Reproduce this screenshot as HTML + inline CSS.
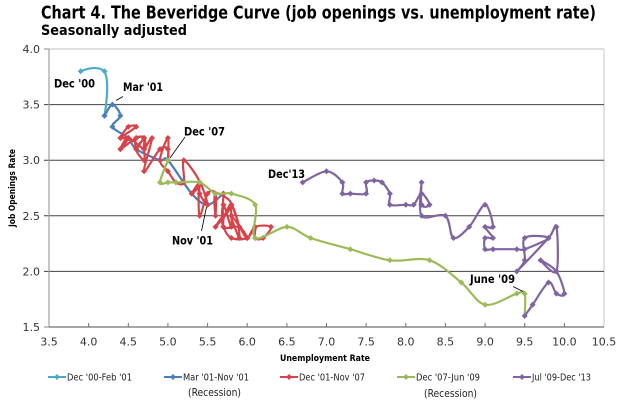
<!DOCTYPE html>
<html>
<head>
<meta charset="utf-8">
<style>
html,body{margin:0;padding:0;background:#fff;}
svg{display:block;}
text{font-family:"DejaVu Sans","Liberation Sans",sans-serif;}
</style>
</head>
<body>
<svg id="chart" width="625" height="404" viewBox="0 0 625 404" xmlns="http://www.w3.org/2000/svg">
<defs>
<marker id="mC" markerWidth="8" markerHeight="8" refX="4" refY="4" markerUnits="userSpaceOnUse"><path d="M4,1 L7,4 L4,7 L1,4Z" fill="#4BACC6"/></marker>
<marker id="mB" markerWidth="8" markerHeight="8" refX="4" refY="4" markerUnits="userSpaceOnUse"><path d="M4,1 L7,4 L4,7 L1,4Z" fill="#4A7EBB"/></marker>
<marker id="mR" markerWidth="8" markerHeight="8" refX="4" refY="4" markerUnits="userSpaceOnUse"><path d="M4,1 L7,4 L4,7 L1,4Z" fill="#D8434A"/></marker>
<marker id="mG" markerWidth="8" markerHeight="8" refX="4" refY="4" markerUnits="userSpaceOnUse"><path d="M4,1 L7,4 L4,7 L1,4Z" fill="#9BBB59"/></marker>
<marker id="mP" markerWidth="8" markerHeight="8" refX="4" refY="4" markerUnits="userSpaceOnUse"><path d="M4,1 L7,4 L4,7 L1,4Z" fill="#8064A2"/></marker>
</defs>

<!-- Title -->
<text x="41" y="18.5" font-size="17.5" font-weight="bold" fill="#000" textLength="555" lengthAdjust="spacingAndGlyphs">Chart 4. The Beveridge Curve (job openings vs. unemployment rate)</text>
<text x="41" y="35" font-size="14" font-weight="bold" fill="#000" textLength="146" lengthAdjust="spacingAndGlyphs">Seasonally adjusted</text>

<!-- Plot frame -->
<line x1="49" y1="49" x2="604" y2="49" stroke="#bfbfbf" stroke-width="1"/>
<line x1="604" y1="49" x2="604" y2="327" stroke="#d9d9d9" stroke-width="1.5"/>
<g stroke="#404040" stroke-width="1">
<line x1="44" y1="104.6" x2="604" y2="104.6"/>
<line x1="44" y1="160.2" x2="604" y2="160.2"/>
<line x1="44" y1="215.8" x2="604" y2="215.8"/>
<line x1="44" y1="271.4" x2="604" y2="271.4"/>
</g>
<line x1="44" y1="49" x2="49" y2="49" stroke="#888" stroke-width="1"/>
<line x1="44" y1="327" x2="49" y2="327" stroke="#888" stroke-width="1"/>
<line x1="49" y1="49" x2="49" y2="327" stroke="#a0a0a0" stroke-width="1.2"/>
<line x1="49" y1="327" x2="604" y2="327" stroke="#707070" stroke-width="1.2"/>
<g stroke="#707070" stroke-width="1">
<line x1="88.6" y1="323" x2="88.6" y2="327"/>
<line x1="128.3" y1="323" x2="128.3" y2="327"/>
<line x1="167.9" y1="323" x2="167.9" y2="327"/>
<line x1="207.6" y1="323" x2="207.6" y2="327"/>
<line x1="247.2" y1="323" x2="247.2" y2="327"/>
<line x1="286.9" y1="323" x2="286.9" y2="327"/>
<line x1="326.5" y1="323" x2="326.5" y2="327"/>
<line x1="366.1" y1="323" x2="366.1" y2="327"/>
<line x1="405.8" y1="323" x2="405.8" y2="327"/>
<line x1="445.4" y1="323" x2="445.4" y2="327"/>
<line x1="485.1" y1="323" x2="485.1" y2="327"/>
<line x1="524.7" y1="323" x2="524.7" y2="327"/>
<line x1="564.4" y1="323" x2="564.4" y2="327"/>
</g>

<g font-size="11" fill="#333" text-anchor="end">
<text x="40" y="53">4.0</text>
<text x="40" y="108.6">3.5</text>
<text x="40" y="164.2">3.0</text>
<text x="40" y="219.8">2.5</text>
<text x="40" y="275.4">2.0</text>
<text x="40" y="331">1.5</text>
</g>
<g font-size="11" fill="#333" text-anchor="middle">
<text x="49" y="345.5">3.5</text>
<text x="88.6" y="345.5">4.0</text>
<text x="128.3" y="345.5">4.5</text>
<text x="167.9" y="345.5">5.0</text>
<text x="207.6" y="345.5">5.5</text>
<text x="247.2" y="345.5">6.0</text>
<text x="286.9" y="345.5">6.5</text>
<text x="326.5" y="345.5">7.0</text>
<text x="366.1" y="345.5">7.5</text>
<text x="405.8" y="345.5">8.0</text>
<text x="445.4" y="345.5">8.5</text>
<text x="485.1" y="345.5">9.0</text>
<text x="524.7" y="345.5">9.5</text>
<text x="564.4" y="345.5">10.0</text>
<text x="604" y="345.5">10.5</text>
</g>

<text x="325" y="361" font-size="9" font-weight="bold" fill="#000" text-anchor="middle" textLength="90" lengthAdjust="spacingAndGlyphs">Unemployment  Rate</text>
<text transform="translate(15,188) rotate(-90)" font-size="8.5" font-weight="bold" fill="#000" text-anchor="middle" textLength="78" lengthAdjust="spacingAndGlyphs">Job Openings  Rate</text>

<path d="M80.7,71.2 C88,68.5 97,65.5 104.5,71.2 C109,80 107,100 104.5,115.7" fill="none" stroke="#4BACC6" stroke-width="2.2" stroke-linejoin="round" marker-start="url(#mC)" marker-mid="url(#mC)" marker-end="url(#mC)"/>

<polyline class="sm" points="104.5,115.7 112.4,104.6 120.4,115.7 112.4,126.8 128.3,138.0 136.2,149.1 160.0,160.2 167.9,160.2 191.7,193.6 207.6,204.7 223.4,193.6" fill="none" stroke="#4A7EBB" stroke-width="2.2" stroke-linejoin="round" marker-start="url(#mB)" marker-mid="url(#mB)" marker-end="url(#mB)"/>

<polyline class="sm" points="223.4,193.6 223.4,215.8 231.4,204.7 239.3,226.9 231.4,204.7 231.4,226.9 223.4,204.7 223.4,226.9 239.3,226.9 247.2,238.0 231.4,215.8 239.3,238.0 239.3,226.9 247.2,238.0 255.1,226.9 271.0,226.9 263.1,238.0 255.1,238.0 255.1,226.9 247.2,238.0 231.4,238.0 223.4,226.9 223.4,215.8 215.5,226.9 231.4,204.7 215.5,193.6 215.5,215.8 215.5,193.6 207.6,193.6 199.6,215.8 199.6,182.4 207.6,204.7 199.6,193.6 199.6,182.4 191.7,193.6 199.6,182.4 183.8,160.2 183.8,182.4 175.9,182.4 167.9,171.3 160.0,160.2 167.9,138.0 167.9,160.2 167.9,149.1 160.0,149.1 144.1,171.3 152.1,138.0 144.1,149.1 144.1,138.0 136.2,149.1 136.2,138.0 144.1,138.0 144.1,149.1 128.3,138.0 120.4,149.1 128.3,138.0 120.4,138.0 136.2,126.8 128.3,126.8 120.4,138.0 128.3,138.0 120.4,149.1 136.2,138.0 144.1,138.0 136.2,149.1 144.1,160.2 144.1,149.1" fill="none" stroke="#D8434A" stroke-width="2.2" stroke-linejoin="round" marker-start="url(#mR)" marker-mid="url(#mR)" marker-end="url(#mR)"/>

<polyline class="sm" points="167.9,160.2 160.0,182.4 167.9,182.4 175.9,182.4 199.6,182.4 215.5,193.6 231.4,193.6 255.1,204.7 255.1,238.0 286.9,226.9 310.6,238.0 350.3,249.2 389.9,260.3 429.6,260.3 461.3,282.5 485.1,304.8 516.8,293.6 524.7,293.6 524.7,315.9" fill="none" stroke="#9BBB59" stroke-width="2.2" stroke-linejoin="round" marker-start="url(#mG)" marker-mid="url(#mG)" marker-end="url(#mG)"/>

<polyline class="sm" points="524.7,315.9 532.6,304.8 548.5,282.5 556.4,293.6 564.4,293.6 556.4,271.4 540.6,260.3 556.4,271.4 556.4,226.9 548.5,238.0 516.8,271.4 524.7,260.3 524.7,238.0 548.5,238.0 524.7,249.2 516.8,249.2 493.0,249.2 485.1,249.2 485.1,238.0 493.0,238.0 485.1,226.9 493.0,226.9 485.1,204.7 469.2,226.9 453.4,238.0 445.4,215.8 421.6,215.8 421.6,182.4 421.6,204.7 429.6,204.7 421.6,193.6 413.7,204.7 405.8,204.7 389.9,204.7 389.9,193.6 382.0,182.4 374.1,180.5 366.1,182.4 366.1,193.6 350.3,193.6 342.4,193.6 342.4,182.4 326.5,171.3 302.7,182.4" fill="none" stroke="#8064A2" stroke-width="2.2" stroke-linejoin="round" marker-start="url(#mP)" marker-mid="url(#mP)" marker-end="url(#mP)"/>

<g font-size="11.5" font-weight="bold" fill="#000">
<text x="54" y="87.5" textLength="41" lengthAdjust="spacingAndGlyphs">Dec '00</text>
<text x="123" y="91" textLength="40" lengthAdjust="spacingAndGlyphs">Mar '01</text>
<text x="184" y="135.5" textLength="41" lengthAdjust="spacingAndGlyphs">Dec '07</text>
<text x="172" y="244.5" textLength="41" lengthAdjust="spacingAndGlyphs">Nov '01</text>
<text x="268" y="178" textLength="37" lengthAdjust="spacingAndGlyphs">Dec'13</text>
<text x="470" y="283" textLength="45" lengthAdjust="spacingAndGlyphs">June '09</text>
</g>
<g stroke="#000" stroke-width="0.8">
<line x1="116" y1="100.5" x2="123" y2="96.5"/>
<line x1="170" y1="158" x2="185" y2="137"/>
<line x1="201.5" y1="231" x2="206.5" y2="207"/>
<line x1="513" y1="286.5" x2="523" y2="291.5"/>
</g>

<g stroke-width="2">
<line x1="48" y1="377" x2="66" y2="377" stroke="#4BACC6"/>
<line x1="164" y1="377" x2="182" y2="377" stroke="#4A7EBB"/>
<line x1="280" y1="377" x2="298" y2="377" stroke="#D8434A"/>
<line x1="397" y1="377" x2="415" y2="377" stroke="#9BBB59"/>
<line x1="513" y1="377" x2="531" y2="377" stroke="#8064A2"/>
</g>
<path d="M57,374 L60,377 L57,380 L54,377Z" fill="#4BACC6"/>
<path d="M173,374 L176,377 L173,380 L170,377Z" fill="#4A7EBB"/>
<path d="M289,374 L292,377 L289,380 L286,377Z" fill="#D8434A"/>
<path d="M406,374 L409,377 L406,380 L403,377Z" fill="#9BBB59"/>
<path d="M522,374 L525,377 L522,380 L519,377Z" fill="#8064A2"/>
<g font-size="9.5" fill="#222">
<text x="67" y="380.5" textLength="65" lengthAdjust="spacingAndGlyphs">Dec '00-Feb '01</text>
<text x="183" y="380.5" textLength="66" lengthAdjust="spacingAndGlyphs">Mar '01-Nov '01</text>
<text x="299" y="380.5" textLength="66" lengthAdjust="spacingAndGlyphs">Dec '01-Nov '07</text>
<text x="416" y="380.5" textLength="64" lengthAdjust="spacingAndGlyphs">Dec '07-Jun '09</text>
<text x="532" y="380.5" textLength="59" lengthAdjust="spacingAndGlyphs">Jul '09-Dec '13</text>
</g>
<g font-size="10.5" fill="#222">
<text x="188" y="396" textLength="53" lengthAdjust="spacingAndGlyphs">(Recession)</text>
<text x="424" y="397" textLength="53" lengthAdjust="spacingAndGlyphs">(Recession)</text>
</g>
</svg>
<script>
(function(){
  try{
    var ns="http://www.w3.org/2000/svg";
    var pls=document.querySelectorAll("polyline.sm");
    for(var k=0;k<pls.length;k++){
      var pl=pls[k];
      var raw=pl.getAttribute("points").trim().split(/\s+/);
      var p=[];
      for(var i=0;i<raw.length;i++){var a=raw[i].split(",");p.push([parseFloat(a[0]),parseFloat(a[1])]);}
      var d="M"+p[0][0]+","+p[0][1];
      for(var i=0;i<p.length-1;i++){
        var p0=p[i>0?i-1:i],p1=p[i],p2=p[i+1],p3=p[i+2<p.length?i+2:i+1];
        var t=0.16;
        var c1x=p1[0]+(p2[0]-p0[0])*t,c1y=p1[1]+(p2[1]-p0[1])*t;
        var c2x=p2[0]-(p3[0]-p1[0])*t,c2y=p2[1]-(p3[1]-p1[1])*t;
        d+=" C"+c1x.toFixed(1)+","+c1y.toFixed(1)+" "+c2x.toFixed(1)+","+c2y.toFixed(1)+" "+p2[0]+","+p2[1];
      }
      var path=document.createElementNS(ns,"path");
      path.setAttribute("d",d);
      var attrs=["fill","stroke","stroke-width","stroke-linejoin","marker-start","marker-mid","marker-end"];
      for(var j=0;j<attrs.length;j++){path.setAttribute(attrs[j],pl.getAttribute(attrs[j]));}
      pl.parentNode.replaceChild(path,pl);
    }
  }catch(e){}
})();
</script>
</body>
</html>
